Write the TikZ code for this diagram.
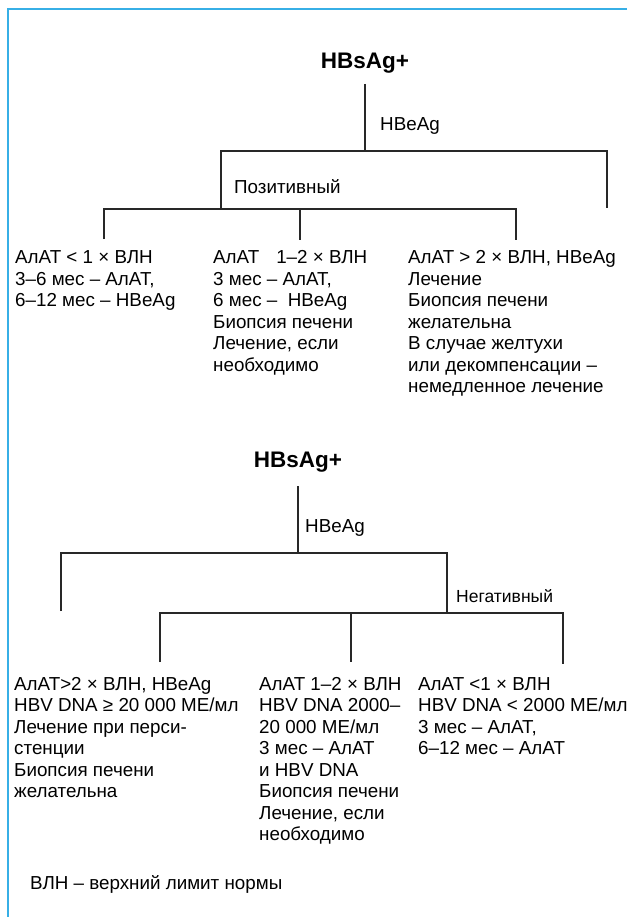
\documentclass[tikz,border=0pt]{standalone}
\usepackage{fontspec}
\setmainfont{Liberation Sans}
\definecolor{framecol}{RGB}{55,175,230}
\definecolor{linecol}{RGB}{40,40,40}
\begin{document}
\begin{tikzpicture}[x=1pt,y=-1pt,
  tline/.style={draw=linecol, line width=1.3pt},
  framel/.style={draw=framecol, line width=2pt},
  txt/.style={font=\fontsize{18.8}{21.5}\selectfont, align=left, inner sep=0pt, anchor=north west},
  rootnode/.style={font=\bfseries\fontsize{22.5}{26}\selectfont, inner sep=0pt, anchor=base},
  lbl/.style={font=\fontsize{18.8}{21}\selectfont, inner sep=0pt, anchor=base west},
  smlbl/.style={font=\fontsize{17.5}{20}\selectfont, inner sep=0pt, anchor=base west}]
\useasboundingbox (0,0) rectangle (627,917);
\fill[white] (0,0) rectangle (627,917);
% frame
\coordinate (fr1) at (627,9.5);
\coordinate (fr2) at (8,9.5);
\coordinate (fr3) at (8,917);
\draw[framel] (fr1) -- (fr2) -- (fr3);

% ---------- tree 1 ----------
\node[rootnode] (root1) at (365,69) {HBsAg+};
\coordinate (a0) at (365,84);
\coordinate (a1) at (365,151);
\coordinate (aL) at (221,151);
\coordinate (aR) at (607,151);
\coordinate (aLb) at (221,209);
\coordinate (aRb) at (607,208);
\coordinate (b1) at (104,209);
\coordinate (b2) at (300,209);
\coordinate (b3) at (516,209);
\coordinate (b1e) at (104,239);
\coordinate (b2e) at (300,240);
\coordinate (b3e) at (516,240);
\draw[tline] (a0) -- (a1);
\draw[tline] (aLb) -- (aL) -- (aR) -- (aRb);
\draw[tline] (b1e) -- (b1) -- (b3) -- (b3e);
\draw[tline] (b2) -- (b2e);
\node[lbl] (hbe1) at (380,131) {HBeAg};
\node[lbl] (pos) at (234,194) {Позитивный};

\node[txt] (l1) at (15,250.5) {АлАТ < 1 × ВЛН\\3–6 мес – АлАТ,\\6–12 мес – HBeAg};
\node[txt] (l2) at (213,250.5) {АлАТ\hspace{17pt}1–2 × ВЛН\\3 мес – АлАТ,\\6 мес –\ \ HBeAg\\Биопсия печени\\Лечение, если\\необходимо};
\node[txt] (l3) at (408,250.5) {АлАТ > 2 × ВЛН, HBeAg\\Лечение\\Биопсия печени\\желательна\\В случае желтухи\\или декомпенсации –\\немедленное лечение};

% ---------- tree 2 ----------
\node[rootnode] (root2) at (298,467) {HBsAg+};
\coordinate (c0) at (298,486);
\coordinate (c1) at (298,553);
\coordinate (cL) at (61,553);
\coordinate (cR) at (447,553);
\coordinate (cLb) at (61,611);
\coordinate (cRb) at (447,613);
\coordinate (d1) at (160,613);
\coordinate (d2) at (351,613);
\coordinate (d3) at (563,613);
\coordinate (d1e) at (160,662);
\coordinate (d2e) at (351,662);
\coordinate (d3e) at (563,664);
\draw[tline] (c0) -- (c1);
\draw[tline] (cLb) -- (cL) -- (cR) -- (cRb);
\draw[tline] (d1e) -- (d1) -- (d3) -- (d3e);
\draw[tline] (d2) -- (d2e);
\node[lbl] (hbe2) at (305,532) {HBeAg};
\node[smlbl] (neg) at (456,602) {Негативный};

\node[txt] (m1) at (14,677) {АлАТ>2 × ВЛН, HBeAg\\HBV DNA ≥ 20 000 МЕ/мл\\Лечение при перси-\\стенции\\Биопсия печени\\желательна};
\node[txt] (m2) at (259,677) {АлАТ 1–2 × ВЛН\\HBV DNA 2000–\\20 000 МЕ/мл\\3 мес – АлАТ\\и HBV DNA\\Биопсия печени\\Лечение, если\\необходимо};
\node[txt] (m3) at (418,677) {АлАТ <1 × ВЛН\\HBV DNA < 2000 МЕ/мл\\3 мес – АлАТ,\\6–12 мес – АлАТ};

\node[lbl] (foot) at (30,889) {ВЛН – верхний лимит нормы};
\end{tikzpicture}
\end{document}
